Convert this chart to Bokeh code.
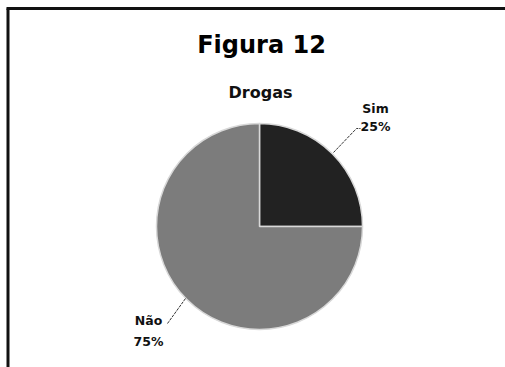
import math
from bokeh.plotting import figure
from bokeh.models import Range1d, ColumnDataSource
from bokeh.core.properties import value
from bokeh.embed import file_html
from bokeh.resources import INLINE

W, H = 505, 367

# data
categories = ["Sim", "Não"]
values = [25, 75]
colors = ["#222222", "#7c7c7c"]

title_text = "Figura 12"
chart_title = "Drogas"

total = sum(values)
starts, ends, pcts = [], [], []
acc = 0.0
for v in values:
    a0 = math.pi / 2 - 2 * math.pi * acc / total
    acc += v
    a1 = math.pi / 2 - 2 * math.pi * acc / total
    starts.append(a1)
    ends.append(a0)
    pcts.append(f"{round(100 * v / total)}%")

src = ColumnDataSource(dict(start=starts, end=ends, color=colors))

p = figure(width=W, height=H, output_backend="svg", toolbar_location=None,
           x_range=Range1d(0, W), y_range=Range1d(0, H), min_border=0)
p.axis.visible = False
p.grid.visible = False
p.outline_line_color = None
p.background_fill_color = "white"
p.border_fill_color = "white"

def Y(y):
    return H - y

FONT = value("DejaVu Sans")

# frame (left and top edges)
p.segment(x0=[7.5], y0=[Y(367)], x1=[7.5], y1=[Y(8)],
          line_color="#111111", line_width=3)
p.segment(x0=[6], y0=[Y(8)], x1=[W], y1=[Y(8)],
          line_color="#111111", line_width=3)

cx, cy, r = 259, Y(226), 103
p.wedge(x=cx, y=cy, radius=r, start_angle="start", end_angle="end",
        fill_color="color", line_color="#d8d8d8", line_width=1.5, source=src)

# titles
p.text(x=[261], y=[Y(44)], text=[title_text], text_font=FONT,
       text_font_style="bold", text_font_size="24px", text_align="center",
       text_baseline="alphabetic", text_color="black")
p.text(x=[260], y=[Y(92)], text=[chart_title], text_font=FONT,
       text_font_style="bold", text_font_size="16px", text_align="center",
       text_baseline="alphabetic", text_color="#111111")

# labels with leader lines
p.text(x=[375, 375], y=[Y(108), Y(126)], text=[categories[0], pcts[0]],
       text_font=FONT, text_font_style="bold", text_font_size="12.5px",
       text_align="center", text_baseline="middle", text_color="#111111")
p.line(x=[333, 356, 360], y=[Y(152), Y(128), Y(128)], line_color="#333333",
       line_width=1, line_dash="3 1")

p.text(x=[148, 148], y=[Y(320), Y(341)], text=[categories[1], pcts[1]],
       text_font=FONT, text_font_style="bold", text_font_size="12.5px",
       text_align="center", text_baseline="middle", text_color="#111111")
p.line(x=[185, 167], y=[Y(298), Y(323)], line_color="#333333",
       line_width=1, line_dash="3 1")

open("out.html", "w").write(file_html(p, INLINE))
